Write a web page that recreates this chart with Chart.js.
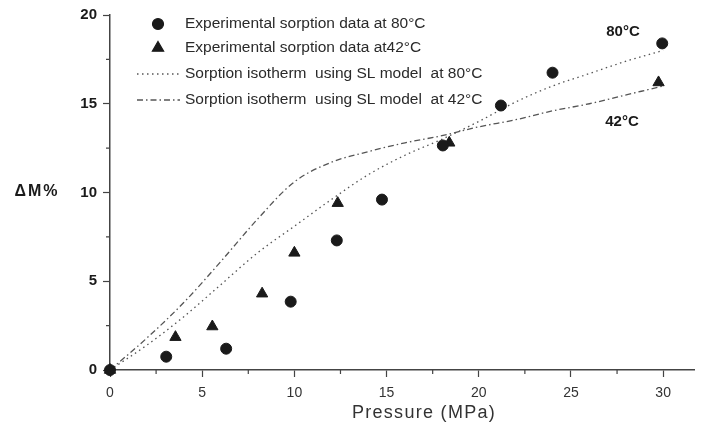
<!DOCTYPE html>
<html>
<head>
<meta charset="utf-8">
<script src="https://cdn.jsdelivr.net/npm/chart.js@4.4.0/dist/chart.umd.min.js"></script>
<style>
    html, body { margin: 0; padding: 0; background: #fff; }
    #wrap { width: 702px; height: 428px; }
</style>
</head>
<body>
<div id="wrap"><canvas id="chart"></canvas></div>
<script>
// experimental points
const exp80Pressure = [0, 3.05, 6.3, 9.8, 12.3, 14.75, 18.05, 21.2, 24.0, 29.95];
const exp80Uptake   = [0, 0.75, 1.2, 3.85, 7.3, 9.6, 12.65, 14.9, 16.75, 18.4];
const exp42Pressure = [0, 3.55, 5.55, 8.25, 10.0, 12.35, 18.4, 29.75];
const exp42Uptake   = [0, 1.85, 2.45, 4.3, 6.6, 9.4, 12.8, 16.2];

// SL model curves
const modelPressure = [0, 2, 4, 6, 8, 10, 12, 14, 16, 18, 20, 22, 24, 26, 28, 30];
const model80Uptake = [0, 1.4, 3.0, 4.8, 6.6, 8.1, 9.6, 11.0, 12.1, 13.0, 14.0, 15.1, 16.0, 16.7, 17.4, 18.0];
const model42Uptake = [0, 1.8, 3.8, 6.1, 8.5, 10.6, 11.7, 12.3, 12.8, 13.2, 13.7, 14.1, 14.6, 15.0, 15.5, 16.0];

const xTicks = [0, 5, 10, 15, 20, 25, 30];
const yTicks = [0, 5, 10, 15, 20];

const labels = [
    'Experimental sorption data at 80°C',
    'Experimental sorption data at42°C',
    'Sorption isotherm  using SL model  at 80°C',
    'Sorption isotherm  using SL model  at 42°C'
];

const FONT = '"Liberation Sans", Arial, sans-serif';
const INK = '#1a1a1a';

function toPoints(xs, ys) {
    return xs.map((x, i) => ({ x: x, y: ys[i] }));
}

// minor ticks, legend, axis titles and curve labels
const decor = {
    id: 'decor',
    afterDraw(chart) {
        const ctx = chart.ctx;
        const xs = chart.scales.x, ys = chart.scales.y;
        const area = chart.chartArea;
        ctx.save();

        // minor ticks
        ctx.strokeStyle = '#444';
        ctx.lineWidth = 1.2;
        ctx.beginPath();
        for (let v = 2.5; v < 31; v += 5) {
            const px = xs.getPixelForValue(v);
            ctx.moveTo(px, area.bottom);
            ctx.lineTo(px, area.bottom + 4);
        }
        for (let v = 2.5; v < 20; v += 5) {
            const py = ys.getPixelForValue(v);
            ctx.moveTo(area.left, py);
            ctx.lineTo(area.left - 4, py);
        }
        ctx.stroke();

        // legend
        const rows = [24, 48, 74, 100];
        chart.data.datasets.forEach((ds, i) => {
            const y = rows[i];
            if (ds.showLine) {
                ctx.strokeStyle = ds.borderColor;
                ctx.lineWidth = ds.borderWidth;
                ctx.setLineDash(ds.borderDash);
                ctx.beginPath();
                ctx.moveTo(137, y);
                ctx.lineTo(180, y);
                ctx.stroke();
                ctx.setLineDash([]);
            } else {
                ctx.fillStyle = ds.backgroundColor;
                ctx.strokeStyle = ds.borderColor;
                Chart.helpers.drawPoint(ctx, {
                    pointStyle: ds.pointStyle,
                    radius: ds.pointRadius,
                    borderWidth: 1
                }, 158, y);
            }
            ctx.fillStyle = '#2a2a2a';
            ctx.font = '15.5px ' + FONT;
            ctx.textAlign = 'left';
            ctx.textBaseline = 'middle';
            ctx.fillText(ds.label, 185, y);
        });

        // curve labels
        ctx.fillStyle = INK;
        ctx.font = 'bold 15px ' + FONT;
        ctx.textAlign = 'center';
        ctx.fillText('80°C', 623, 32);
        ctx.fillText('42°C', 622, 122);

        // y title
        ctx.font = 'bold 16px ' + FONT;
        ctx.letterSpacing = '2px';
        ctx.fillText('ΔM%', 37, 192);

        // x title
        ctx.fillStyle = '#333';
        ctx.font = '18px ' + FONT;
        ctx.letterSpacing = '1.3px';
        ctx.fillText('Pressure (MPa)', 424, 413);
        ctx.restore();
    }
};

new Chart(document.getElementById('chart'), {
    type: 'scatter',
    data: {
        datasets: [
            {
                label: labels[0],
                data: toPoints(exp80Pressure, exp80Uptake),
                pointStyle: 'circle',
                pointRadius: 5.5,
                backgroundColor: INK,
                borderColor: INK,
                clip: false
            },
            {
                label: labels[1],
                data: toPoints(exp42Pressure, exp42Uptake),
                pointStyle: 'triangle',
                pointRadius: 6.5,
                backgroundColor: INK,
                borderColor: INK,
                clip: false
            },
            {
                label: labels[2],
                data: toPoints(modelPressure, model80Uptake),
                showLine: true,
                pointRadius: 0,
                borderColor: '#555',
                borderWidth: 1.3,
                borderDash: [1.5, 3.5],
                cubicInterpolationMode: 'monotone',
                clip: false
            },
            {
                label: labels[3],
                data: toPoints(modelPressure, model42Uptake),
                showLine: true,
                pointRadius: 0,
                borderColor: '#555',
                borderWidth: 1.3,
                borderDash: [6, 3, 1.5, 3],
                cubicInterpolationMode: 'monotone',
                clip: false
            }
        ]
    },
    options: {
        responsive: true,
        maintainAspectRatio: false,
        animation: false,
        layout: { padding: { top: 12, right: 2, left: 0, bottom: 0 } },
        plugins: {
            legend: { display: false },
            tooltip: { enabled: false }
        },
        scales: {
            x: {
                type: 'linear',
                min: 0,
                max: 31.7,
                afterFit: scale => { scale.height = 58; },
                afterBuildTicks: scale => {
                    scale.ticks = xTicks.map(v => ({ value: v }));
                },
                grid: {
                    drawOnChartArea: false,
                    drawTicks: true,
                    tickLength: 7,
                    tickColor: '#444',
                    tickWidth: 1.2
                },
                border: { color: '#444', width: 1.5 },
                ticks: {
                    color: '#333',
                    padding: 8,
                    maxRotation: 0,
                    font: { family: FONT, size: 14 }
                }
            },
            y: {
                type: 'linear',
                min: 0,
                max: 20,
                afterFit: scale => { scale.width = 110; },
                afterBuildTicks: scale => {
                    scale.ticks = yTicks.map(v => ({ value: v }));
                },
                grid: {
                    drawOnChartArea: false,
                    drawTicks: true,
                    tickLength: 7,
                    tickColor: '#444',
                    tickWidth: 1.2
                },
                border: { color: '#444', width: 1.5 },
                ticks: {
                    color: INK,
                    padding: 6,
                    font: { family: FONT, size: 15, weight: 'bold' }
                }
            }
        }
    },
    plugins: [decor]
});
</script>
</body>
</html>
